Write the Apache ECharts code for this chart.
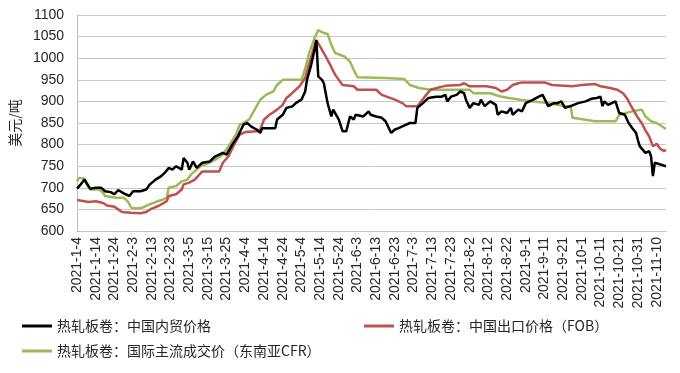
<!DOCTYPE html>
<html>
<head>
<meta charset="utf-8">
<script src="https://cdn.jsdelivr.net/npm/echarts@6/dist/echarts.min.js"></script>
<style>
html,body{margin:0;padding:0;background:#fff;}
#chart{width:680px;height:373px;}
</style>
</head>
<body>
<div id="chart"></div>
<script>
// ---- data (month-day in 2021, value in USD/t) ----
const seriesNames = ['热轧板卷：中国内贸价格', '热轧板卷：中国出口价格（FOB）', '热轧板卷：国际主流成交价（东南亚CFR）'];
const yTicks = [600, 650, 700, 750, 800, 850, 900, 950, 1000, 1050, 1100];

const domesticDates = ['1-4','1-6','1-8','1-9','1-11','1-14','1-17','1-19','1-22','1-24','1-26','1-29','2-1','2-3','2-7','2-10','2-12','2-15','2-18','2-20','2-22','2-24','2-26','3-1','3-2','3-4','3-5','3-7','3-9','3-12','3-16','3-19','3-23','3-25','3-28','3-31','4-3','4-5','4-7','4-10','4-12','4-13','4-17','4-20','4-21','4-24','4-26','4-29','5-1','5-4','5-6','5-7','5-9','5-11','5-12','5-13','5-15','5-16','5-18','5-20','5-21','5-24','5-26','5-28','5-30','6-1','6-2','6-6','6-9','6-10','6-13','6-16','6-18','6-19','6-21','6-23','6-25','6-27','7-1','7-4','7-5','7-8','7-11','7-15','7-18','7-20','7-21','7-23','7-26','7-28','7-30','7-31','8-2','8-4','8-7','8-8','8-10','8-13','8-16','8-17','8-19','8-22','8-24','8-25','8-28','8-30','9-1','9-3','9-5','9-8','9-10','9-11','9-13','9-16','9-18','9-20','9-22','9-25','9-26','9-29','10-3','10-6','10-9','10-11','10-12','10-13','10-15','10-17','10-19','10-21','10-22','10-24','10-26','10-28','10-30','10-31','11-1','11-2','11-4','11-6','11-7','11-8','11-9','11-12','11-15'];
const domesticValues = [698,708,719,717,698,700,700,692,690,685,695,687,681,692,692,696,708,719,727,735,746,742,750,742,769,758,742,761,746,758,761,773,781,777,800,819,846,850,842,835,827,838,838,838,858,869,885,888,896,904,923,950,981,1019,1042,958,950,942,896,865,881,858,831,831,865,858,869,865,877,869,865,862,854,858,827,835,838,842,850,850,885,896,908,911,911,915,900,911,915,923,919,904,885,896,892,904,889,900,892,869,877,873,885,869,881,877,896,900,904,911,915,911,889,896,896,900,885,889,892,896,900,906,908,911,889,900,892,896,900,873,873,869,850,838,827,810,796,800,781,785,773,727,758,754,750];

const fobDates = ['1-4','1-8','1-10','1-14','1-18','1-20','1-24','1-26','1-28','2-2','2-7','2-10','2-13','2-17','2-21','2-22','2-26','3-1','3-2','3-5','3-8','3-9','3-12','3-21','3-23','3-26','3-29','4-1','4-4','4-10','4-12','4-14','4-17','4-21','4-24','4-26','4-29','5-3','5-6','5-9','5-12','5-14','5-16','5-19','5-22','5-26','6-1','6-3','6-13','6-16','6-23','6-27','6-29','7-5','7-7','7-9','7-12','7-17','7-20','7-28','7-30','8-2','8-11','8-16','8-19','8-22','8-25','8-28','8-30','9-11','9-15','9-26','10-1','10-8','10-11','10-16','10-20','10-23','10-25','10-27','10-29','10-31','11-2','11-4','11-6','11-8','11-10','11-12','11-14','11-15'];
const fobValues = [672,669,667,669,665,659,656,650,644,642,641,644,652,659,669,681,685,696,708,712,719,723,738,738,758,773,800,823,829,831,835,858,869,881,892,908,919,935,954,1000,1042,1027,1012,988,962,938,935,927,927,915,904,896,889,889,900,911,927,933,936,938,942,935,935,931,923,927,938,942,944,944,938,935,938,940,935,931,927,919,908,892,877,862,850,833,819,796,802,790,785,788];

const cfrDates = ['1-4','1-5','1-8','1-9','1-11','1-16','1-18','1-19','1-25','1-29','1-31','2-2','2-5','2-8','2-12','2-15','2-19','2-21','2-22','2-26','3-1','3-4','3-6','3-9','3-11','3-16','3-19','3-23','3-26','3-30','4-1','4-3','4-6','4-9','4-12','4-15','4-19','4-21','4-24','5-4','5-6','5-8','5-11','5-13','5-15','5-18','5-20','5-22','5-27','5-30','6-1','6-3','6-18','6-28','7-1','7-6','7-12','8-2','8-4','8-13','8-18','8-23','8-29','9-5','9-13','9-22','9-25','9-26','10-8','10-19','10-21','10-28','11-2','11-4','11-7','11-10','11-15'];
const cfrValues = [715,723,721,708,696,696,688,681,677,677,669,654,652,654,662,667,673,677,700,704,715,719,731,742,750,758,765,777,796,823,846,850,858,881,904,915,923,938,950,950,975,1010,1046,1065,1060,1056,1031,1012,1004,992,973,956,954,952,938,931,927,927,919,919,912,908,904,900,896,889,889,862,854,854,869,877,881,865,854,850,836];

// ---- helpers ----
const START = Date.UTC(2021, 0, 4);
const DAY = 86400000;
function dayIndex(md) {
  const p = md.split('-').map(Number);
  return Math.round((Date.UTC(2021, p[0] - 1, p[1]) - START) / DAY);
}
function toPairs(dates, vals) { return dates.map((d, i) => [dayIndex(d), vals[i]]); }
function dayLabel(v) {
  const d = new Date(START + v * DAY);
  return d.getUTCFullYear() + '-' + (d.getUTCMonth() + 1) + '-' + d.getUTCDate();
}
const lastDay = dayIndex('11-15');

const colors = ['#000000', '#c0504d', '#9bbb59'];
const cjk = '"Noto Sans CJK SC", "Liberation Sans", sans-serif';
const latin = '"Liberation Sans", Arial, sans-serif';

const chart = echarts.init(document.getElementById('chart'), null, {renderer: 'canvas'});
function legendAt(name, left, top) {
  return {
    data: [name], left: left, top: top, orient: 'horizontal',
    icon: 'rect', itemWidth: 30, itemHeight: 3, itemGap: 6, padding: 0,
    textStyle: {fontFamily: cjk, fontSize: 14, color: '#262626'}
  };
}
chart.setOption({
  animation: false,
  backgroundColor: '#ffffff',
  color: colors,
  legend: [
    legendAt(seriesNames[0], 22, 319),
    legendAt(seriesNames[1], 364, 319),
    legendAt(seriesNames[2], 22, 344)
  ],
  grid: {left: 77, right: 14, top: 15, bottom: 142, containLabel: false},
  xAxis: {
    type: 'value', min: 0, max: lastDay, interval: 10,
    axisLine: {show: true, lineStyle: {color: '#bfbfbf', width: 1}},
    axisTick: {show: false},
    splitLine: {show: false},
    axisLabel: {
      rotate: 90, margin: 6, fontSize: 14, fontFamily: latin, color: '#262626',
      showMaxLabel: false, showMinLabel: true,
      formatter: v => (v % 10 === 0 ? dayLabel(v) : '')
    }
  },
  yAxis: {
    type: 'value', min: yTicks[0], max: yTicks[yTicks.length - 1], interval: 50,
    name: '美元/吨', nameLocation: 'middle', nameRotate: 90, nameGap: 48,
    nameTextStyle: {fontFamily: cjk, fontSize: 14, color: '#262626'},
    axisLine: {show: true, lineStyle: {color: '#bfbfbf', width: 1}},
    axisTick: {show: false},
    splitLine: {show: true, lineStyle: {color: '#c8c8c8', width: 1}},
    axisLabel: {margin: 13, fontSize: 14, fontFamily: latin, color: '#262626', formatter: v => String(v)}
  },
  series: [
    {name: seriesNames[0], type: 'line', data: toPairs(domesticDates, domesticValues), showSymbol: false, symbol: 'none', lineStyle: {width: 2.5, color: colors[0]}, z: 4},
    {name: seriesNames[1], type: 'line', data: toPairs(fobDates, fobValues), showSymbol: false, symbol: 'none', lineStyle: {width: 2.5, color: colors[1]}, z: 3},
    {name: seriesNames[2], type: 'line', data: toPairs(cfrDates, cfrValues), showSymbol: false, symbol: 'none', lineStyle: {width: 2.5, color: colors[2]}, z: 2}
  ]
});
</script>
</body>
</html>
